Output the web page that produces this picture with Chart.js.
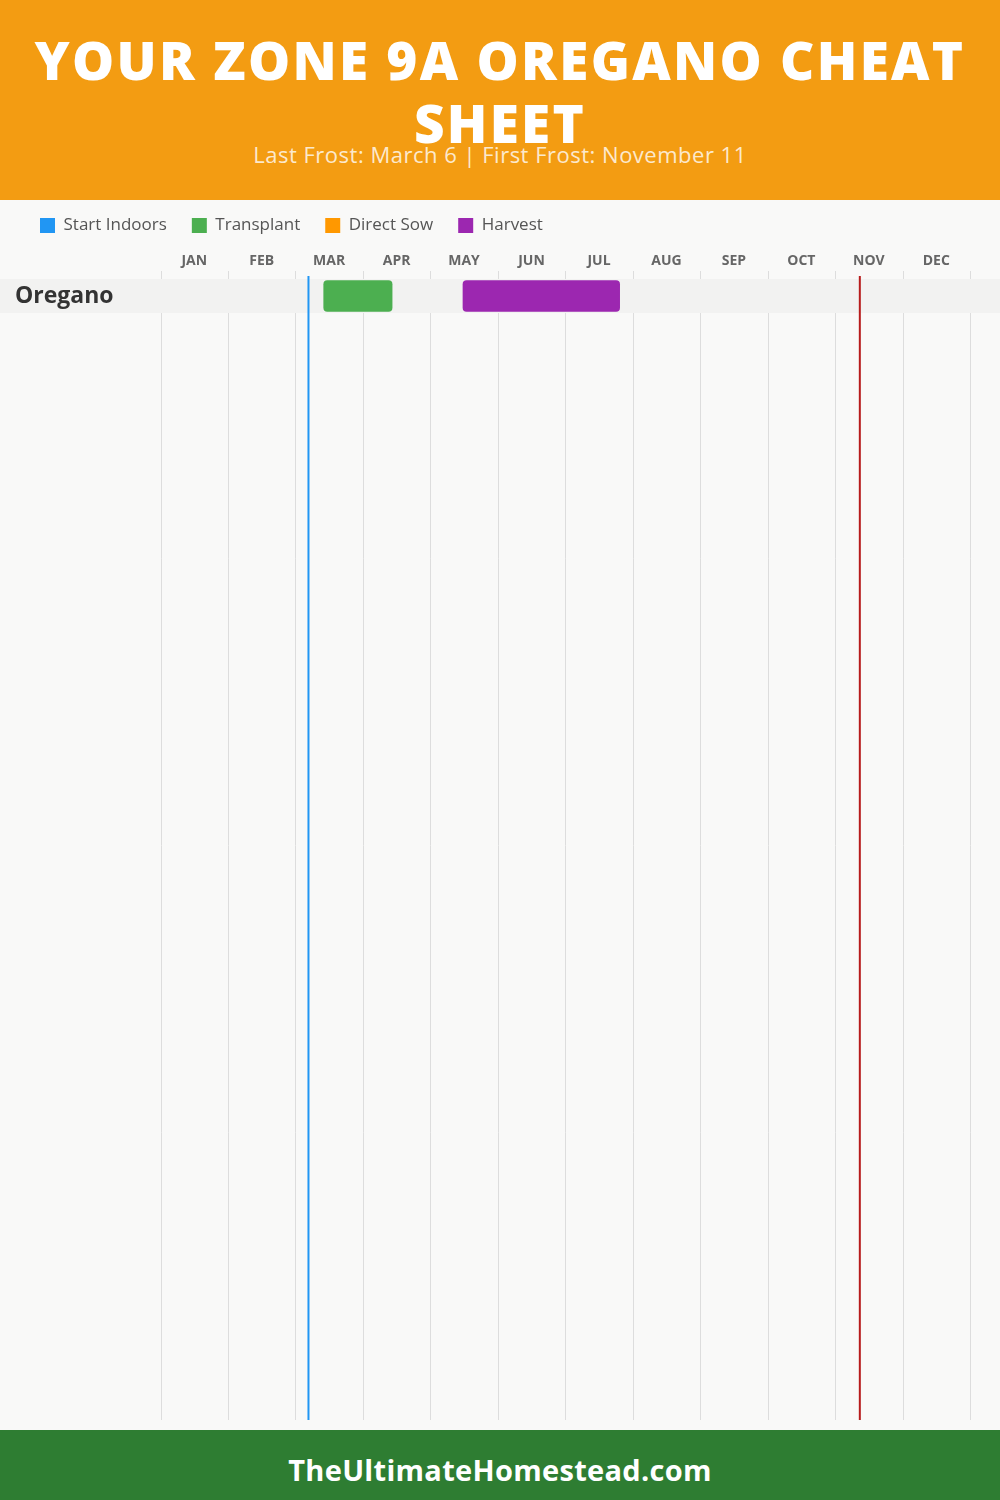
<!DOCTYPE html>
<html>
<head>
<meta charset="utf-8">
<script src="https://cdn.jsdelivr.net/npm/chart.js@4.4.1/dist/chart.umd.min.js"></script>
<style>
html,body{margin:0;padding:0;}
body{width:1000px;height:1500px;position:relative;background:#f9f9f8;overflow:hidden;font-family:"Open Sans",sans-serif;}
#header{position:absolute;left:0;top:0;width:1000px;height:200px;background:#F39C12;}
#title{position:absolute;left:0;top:28px;width:1000px;text-align:center;color:#fff;font-family:"Open Sans",sans-serif;font-weight:800;font-size:53px;line-height:63px;letter-spacing:2.3px;}
#subtitle{position:absolute;left:0;top:139px;width:1000px;text-align:center;color:rgba(255,255,255,0.8);font-size:22px;line-height:30px;letter-spacing:0.5px;}
#wrap{position:absolute;left:0;top:192px;width:1000px;height:1238px;}
#footer{position:absolute;left:0;top:1430px;width:1000px;height:70px;background:#2E7D32;}
#footer div{position:absolute;left:0;top:5px;width:1000px;text-align:center;color:#fff;font-weight:700;font-size:29px;line-height:70px;letter-spacing:0.3px;}
</style>
</head>
<body>
<div id="header">
  <div id="title">YOUR ZONE 9A OREGANO CHEAT<br>SHEET</div>
  <div id="subtitle">Last Frost: March 6 | First Frost: November 11</div>
</div>
<div id="wrap"><canvas id="chart"></canvas></div>
<div id="footer"><div>TheUltimateHomestead.com</div></div>
<script>
// ---- data ----
const months = ['JAN','FEB','MAR','APR','MAY','JUN','JUL','AUG','SEP','OCT','NOV','DEC'];
const crops = ['Oregano'];
const seriesNames = ['Start Indoors','Transplant','Direct Sow','Harvest'];
const seriesColors = ['#2196F3','#4CAF50','#FF9800','#9C27B0'];
// date ranges per crop as ['MM-DD','MM-DD'] (null = none)
const startIndoors = [null];
const transplant = [['03-13','04-13']];
const directSow = [null];
const harvest = [['05-15','07-25']];
const lastFrost = '03-06';
const firstFrost = '11-11';
const daysInMonth = [31,28,31,30,31,30,31,31,30,31,30,31];

function toMonthValue(s){
  const [m,d] = s.split('-').map(Number);
  return (m-1) + d/daysInMonth[m-1];
}
function toRanges(arr){
  return arr.map(r => r ? [toMonthValue(r[0]), toMonthValue(r[1])] : null);
}
const seriesData = [startIndoors, transplant, directSow, harvest];

const backdrop = {
  id:'backdrop',
  beforeDraw(chart){
    const {ctx, chartArea, scales:{x,y}} = chart;
    ctx.save();
    ctx.strokeStyle = '#dddddd';
    ctx.lineWidth = 1;
    for(let i=0;i<=months.length;i++){
      const px = Math.round(x.getPixelForValue(i)) + 0.5;
      ctx.beginPath();
      ctx.moveTo(px, chartArea.top - 8);
      ctx.lineTo(px, chart.height - 10);
      ctx.stroke();
    }
    const h = (chartArea.bottom - chartArea.top) / crops.length;
    ctx.fillStyle = '#f2f2f1';
    crops.forEach((c,i)=>{
      const cy = y.getPixelForValue(i);
      ctx.fillRect(0, cy - h/2, chart.width, h);
    });
    ctx.restore();
  },
  afterDatasetsDraw(chart){
    const {ctx, chartArea, scales:{x}} = chart;
    ctx.save();
    ctx.lineWidth = 2;
    [[lastFrost,'#2196F3'],[firstFrost,'#B71C1C']].forEach(([d,col])=>{
      const px = x.getPixelForValue(toMonthValue(d));
      ctx.strokeStyle = col;
      ctx.beginPath();
      ctx.moveTo(px, chartArea.top - 3);
      ctx.lineTo(px, chart.height - 10);
      ctx.stroke();
    });
    ctx.restore();
  }
};

Chart.defaults.font.family = "'Open Sans', sans-serif";

new Chart(document.getElementById('chart'), {
  type:'bar',
  data:{
    labels: crops,
    datasets: seriesNames.map((name,i)=>({
      label: name,
      data: toRanges(seriesData[i]),
      backgroundColor: seriesColors[i],
      borderWidth: 0,
      borderRadius: 4,
      borderSkipped: false,
      grouped: false,
      barThickness: 31
    }))
  },
  options:{
    indexAxis:'y',
    responsive:true,
    maintainAspectRatio:false,
    animation:false,
    layout:{padding:{left:15,right:30,top:0,bottom:1117}},
    plugins:{
      tooltip:{enabled:false},
      legend:{
        position:'top',
        align:'start',
        labels:{boxWidth:15,boxHeight:15,padding:25,color:'#555',font:{size:17}}
      }
    },
    scales:{
      x:{type:'linear',min:0,max:12,display:false},
      xMonths:{
        type:'category',
        labels: months,
        position:'top',
        offset:true,
        grid:{display:false},
        border:{display:false},
        ticks:{color:'#666',font:{size:14,weight:'bold'},padding:2,maxRotation:0,autoSkip:false},
        afterFit(s){ s.height = 35; }
      },
      y:{
        type:'category',
        grid:{display:false},
        border:{display:false},
        ticks:{color:'#333',font:{size:23,weight:'bold'},crossAlign:'far',padding:0},
        afterFit(s){ s.width = 145.5; }
      }
    }
  },
  plugins:[backdrop]
});
</script>
</body>
</html>
